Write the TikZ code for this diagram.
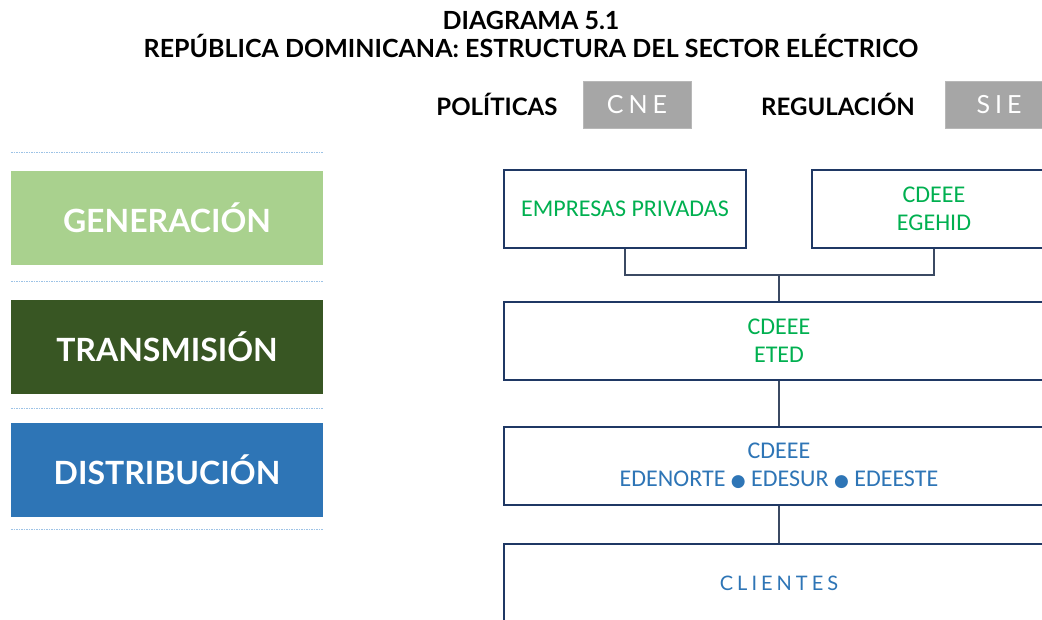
\documentclass[tikz,border=0pt]{standalone}
\usepackage{fontspec}
\setmainfont{Carlito}
\newfontfamily\latofont{Lato}
\newfontfamily\spacedfont[LetterSpace=20]{Lato}
\newfontfamily\dotfont{DejaVu Sans}
\usepackage{tikz}
\usetikzlibrary{positioning}
\usepackage{xcolor}
\definecolor{segreen}{RGB}{169,209,142}
\definecolor{sedarkgreen}{RGB}{56,86,35}
\definecolor{seblue}{RGB}{46,117,182}
\definecolor{senavy}{RGB}{31,56,100}
\definecolor{seline}{RGB}{59,74,99}
\definecolor{setextgreen}{RGB}{0,176,80}
\definecolor{segray}{RGB}{166,166,166}
\definecolor{sedash}{RGB}{157,195,230}
\tikzstyle{stage} = [rectangle, minimum width=312pt, minimum height=94pt, text=white, font=\latofont\bfseries\fontsize{32}{32}\selectfont]
\tikzstyle{entity} = [rectangle, draw=senavy, line width=2.9pt, fill=white, minimum height=78pt, align=center, font=\fontsize{24}{28}\selectfont]
\tikzstyle{agency} = [rectangle, draw=segray!80, fill=segray, minimum width=108pt, minimum height=47pt, text=white, font=\spacedfont\fontsize{25}{25}\selectfont]
\tikzstyle{label} = [font=\latofont\bfseries\fontsize{24}{24}\selectfont]
\tikzstyle{link} = [line width=2.9pt, color=seline]
\tikzstyle{sep} = [dashed, dash pattern=on 1.5pt off 1pt, line width=1pt, color=sedash]

\begin{document}
\begin{tikzpicture}[x=1pt, y=-1pt]
\useasboundingbox (0,0) rectangle (1042,619);
\clip (0,0) rectangle (1042,619);
% Title
\node (title) [align=center, font=\latofont\bfseries\fontsize{25}{28}\selectfont] at (531,34) {DIAGRAMA 5.1\\REPÚBLICA DOMINICANA: ESTRUCTURA DEL SECTOR ELÉCTRICO};

% Policy and regulation
\node (pol) [label] at (497,104) {POLÍTICAS};
\node (cne) [agency] at (637,104.5) {CNE};
\node (reg) [label] at (838,104) {REGULACIÓN};
\node (sie) [agency] at (999,104.5) {SIE};

% Stages
\foreach \y in {152,281,408,529}
  \draw[sep] (11,\y) -- (323,\y);
\node (gen) [stage, fill=segreen] at (167,218) {GENERACIÓN};
\node (tra) [stage, fill=sedarkgreen] at (167,347) {TRANSMISIÓN};
\node (dis) [stage, fill=seblue] at (167,469.5) {DISTRIBUCIÓN};

% Companies
\node (priv) [entity, minimum width=242pt, text=setextgreen] at (625,209) {EMPRESAS PRIVADAS};
\node (egehid) [entity, minimum width=244pt, text=setextgreen] at (934,209) {CDEEE\\EGEHID};
\node (eted) [entity, minimum width=550pt, text=setextgreen] at (779,341) {CDEEE\\ETED};
\node (edes) [entity, minimum width=550pt, text=seblue] at (779,466) {CDEEE\\EDENORTE {\dotfont\fontsize{17}{17}\selectfont ●} EDESUR {\dotfont\fontsize{17}{17}\selectfont ●} EDEESTE};
\node (cli) [entity, minimum width=550pt, text=seblue, font=\spacedfont\fontsize{20}{20}\selectfont] at (779,583) {CLIENTES};

\coordinate (join) at (779,275);
\draw[link] (priv.south) |- (join) -| (egehid.south);
\draw[link] (join) -- (eted.north);
\draw[link] (eted) -- (edes);
\draw[link] (edes) -- (cli);
\end{tikzpicture}
\end{document}
